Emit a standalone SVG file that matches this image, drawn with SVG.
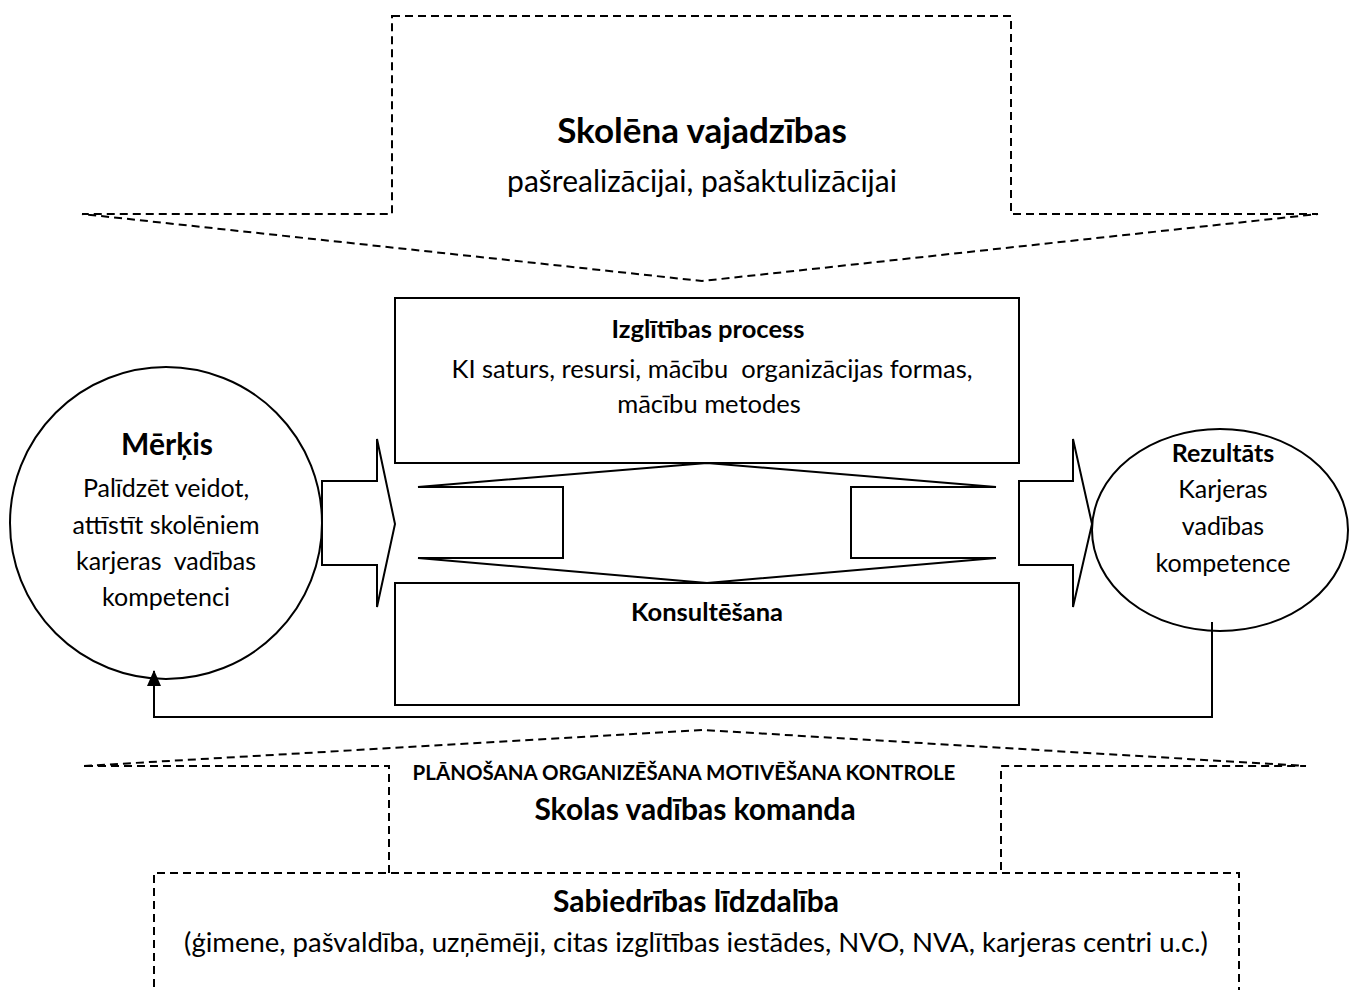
<svg xmlns="http://www.w3.org/2000/svg" width="1349" height="990" viewBox="0 0 1349 990">
  <defs>
    <style>
      .dash { fill: none; stroke: #000; stroke-width: 2; stroke-dasharray: 8 5; }
      .solid { fill: #fff; stroke: #000; stroke-width: 2; }
      .line { fill: none; stroke: #000; stroke-width: 2; }
      text { font-family: Lato, "Liberation Sans", sans-serif; fill: #000; text-anchor: middle; white-space: pre; }
      .b { font-weight: bold; }
    </style>
    <marker id="arrowhead" markerWidth="16" markerHeight="14" refX="15" refY="7" orient="auto" markerUnits="userSpaceOnUse" viewBox="0 0 16 14">
      <path d="M0,0 L16,7 L0,14 Z" fill="#000"/>
    </marker>
  </defs>
  <rect width="1349" height="990" fill="#fff"/>

  <!-- student needs: downward dashed arrow -->
  <g id="skolena-vajadzibas">
    <path class="dash" d="M392,16 L1011,16 L1011,214 L1318,214 L702,281 L82,214 L392,214 Z"/>
    <text class="b" x="702" y="143" font-size="35">Skolēna vajadzības</text>
    <text x="702" y="192" font-size="30">pašrealizācijai, pašaktulizācijai</text>
  </g>

  <!-- education process box -->
  <g id="izglitibas-process">
    <rect class="solid" x="395" y="298" width="624" height="165"/>
    <text class="b" x="708" y="338" font-size="25.5">Izglītības process</text>
    <text x="712" y="378" font-size="25.5" xml:space="preserve">KI saturs, resursi, mācību  organizācijas formas,</text>
    <text x="709" y="413" font-size="25.5">mācību metodes</text>
  </g>

  <!-- counselling box -->
  <g id="konsultesana">
    <rect class="solid" x="395" y="583" width="624" height="122"/>
    <text class="b" x="707" y="621" font-size="25.5">Konsultēšana</text>
  </g>

  <!-- up-down arrow between the two boxes -->
  <g id="savstarpeja-saikne">
    <path class="solid" d="M707,463 L996,487 L851,487 L851,558 L996,558 L707,583 L418,558 L563,558 L563,487 L418,487 Z"/>
  </g>

  <!-- goal -->
  <g id="merkis">
    <circle class="solid" cx="166" cy="523" r="156"/>
    <text class="b" x="167" y="455" font-size="30">Mērķis</text>
    <text x="166" y="497" font-size="25">Palīdzēt veidot,</text>
    <text x="166" y="534" font-size="25">attīstīt skolēniem</text>
    <text x="166" y="570" font-size="25" xml:space="preserve">karjeras  vadības</text>
    <text x="166" y="606" font-size="25">kompetenci</text>
  </g>

  <!-- input arrow -->
  <g id="ievade">
    <path class="solid" d="M322,481 L377,481 L377,439 L395,524 L377,607 L377,565 L322,565 Z"/>
  </g>

  <!-- output arrow -->
  <g id="izvade">
    <path class="solid" d="M1019,481 L1073,481 L1073,439 L1092,524 L1073,607 L1073,565 L1019,565 Z"/>
  </g>

  <!-- result -->
  <g id="rezultats">
    <ellipse class="line" cx="1220" cy="530" rx="128" ry="101"/>
    <text class="b" x="1223" y="462" font-size="25">Rezultāts</text>
    <text x="1223" y="498" font-size="25">Karjeras</text>
    <text x="1223" y="535" font-size="25">vadības</text>
    <text x="1223" y="572" font-size="25">kompetence</text>
  </g>

  <!-- feedback loop from result back to goal -->
  <g id="connectors">
    <path class="line" d="M1212,622 L1212,717 L154,717 L154,671" marker-end="url(#arrowhead)"/>
  </g>

  <!-- school management: upward dashed arrow -->
  <g id="skolas-vadibas-komanda">
    <path class="dash" d="M389,873 L389,766 L82,766 L703,730 L1306,766 L1001,766 L1001,873"/>
    <text class="b" x="684" y="780" font-size="20.5">PLĀNOŠANA ORGANIZĒŠANA MOTIVĒŠANA KONTROLE</text>
    <text class="b" x="695" y="820" font-size="30">Skolas vadības komanda</text>
  </g>

  <!-- community participation -->
  <g id="sabiedribas-lidzdaliba">
    <path class="dash" d="M154,1000 L154,873 L1239,873 L1239,1000"/>
    <text class="b" x="696" y="912" font-size="30">Sabiedrības līdzdalība</text>
    <text x="696" y="952" font-size="27.5">(ģimene, pašvaldība, uzņēmēji, citas izglītības iestādes, NVO, NVA, karjeras centri u.c.)</text>
  </g>
</svg>
